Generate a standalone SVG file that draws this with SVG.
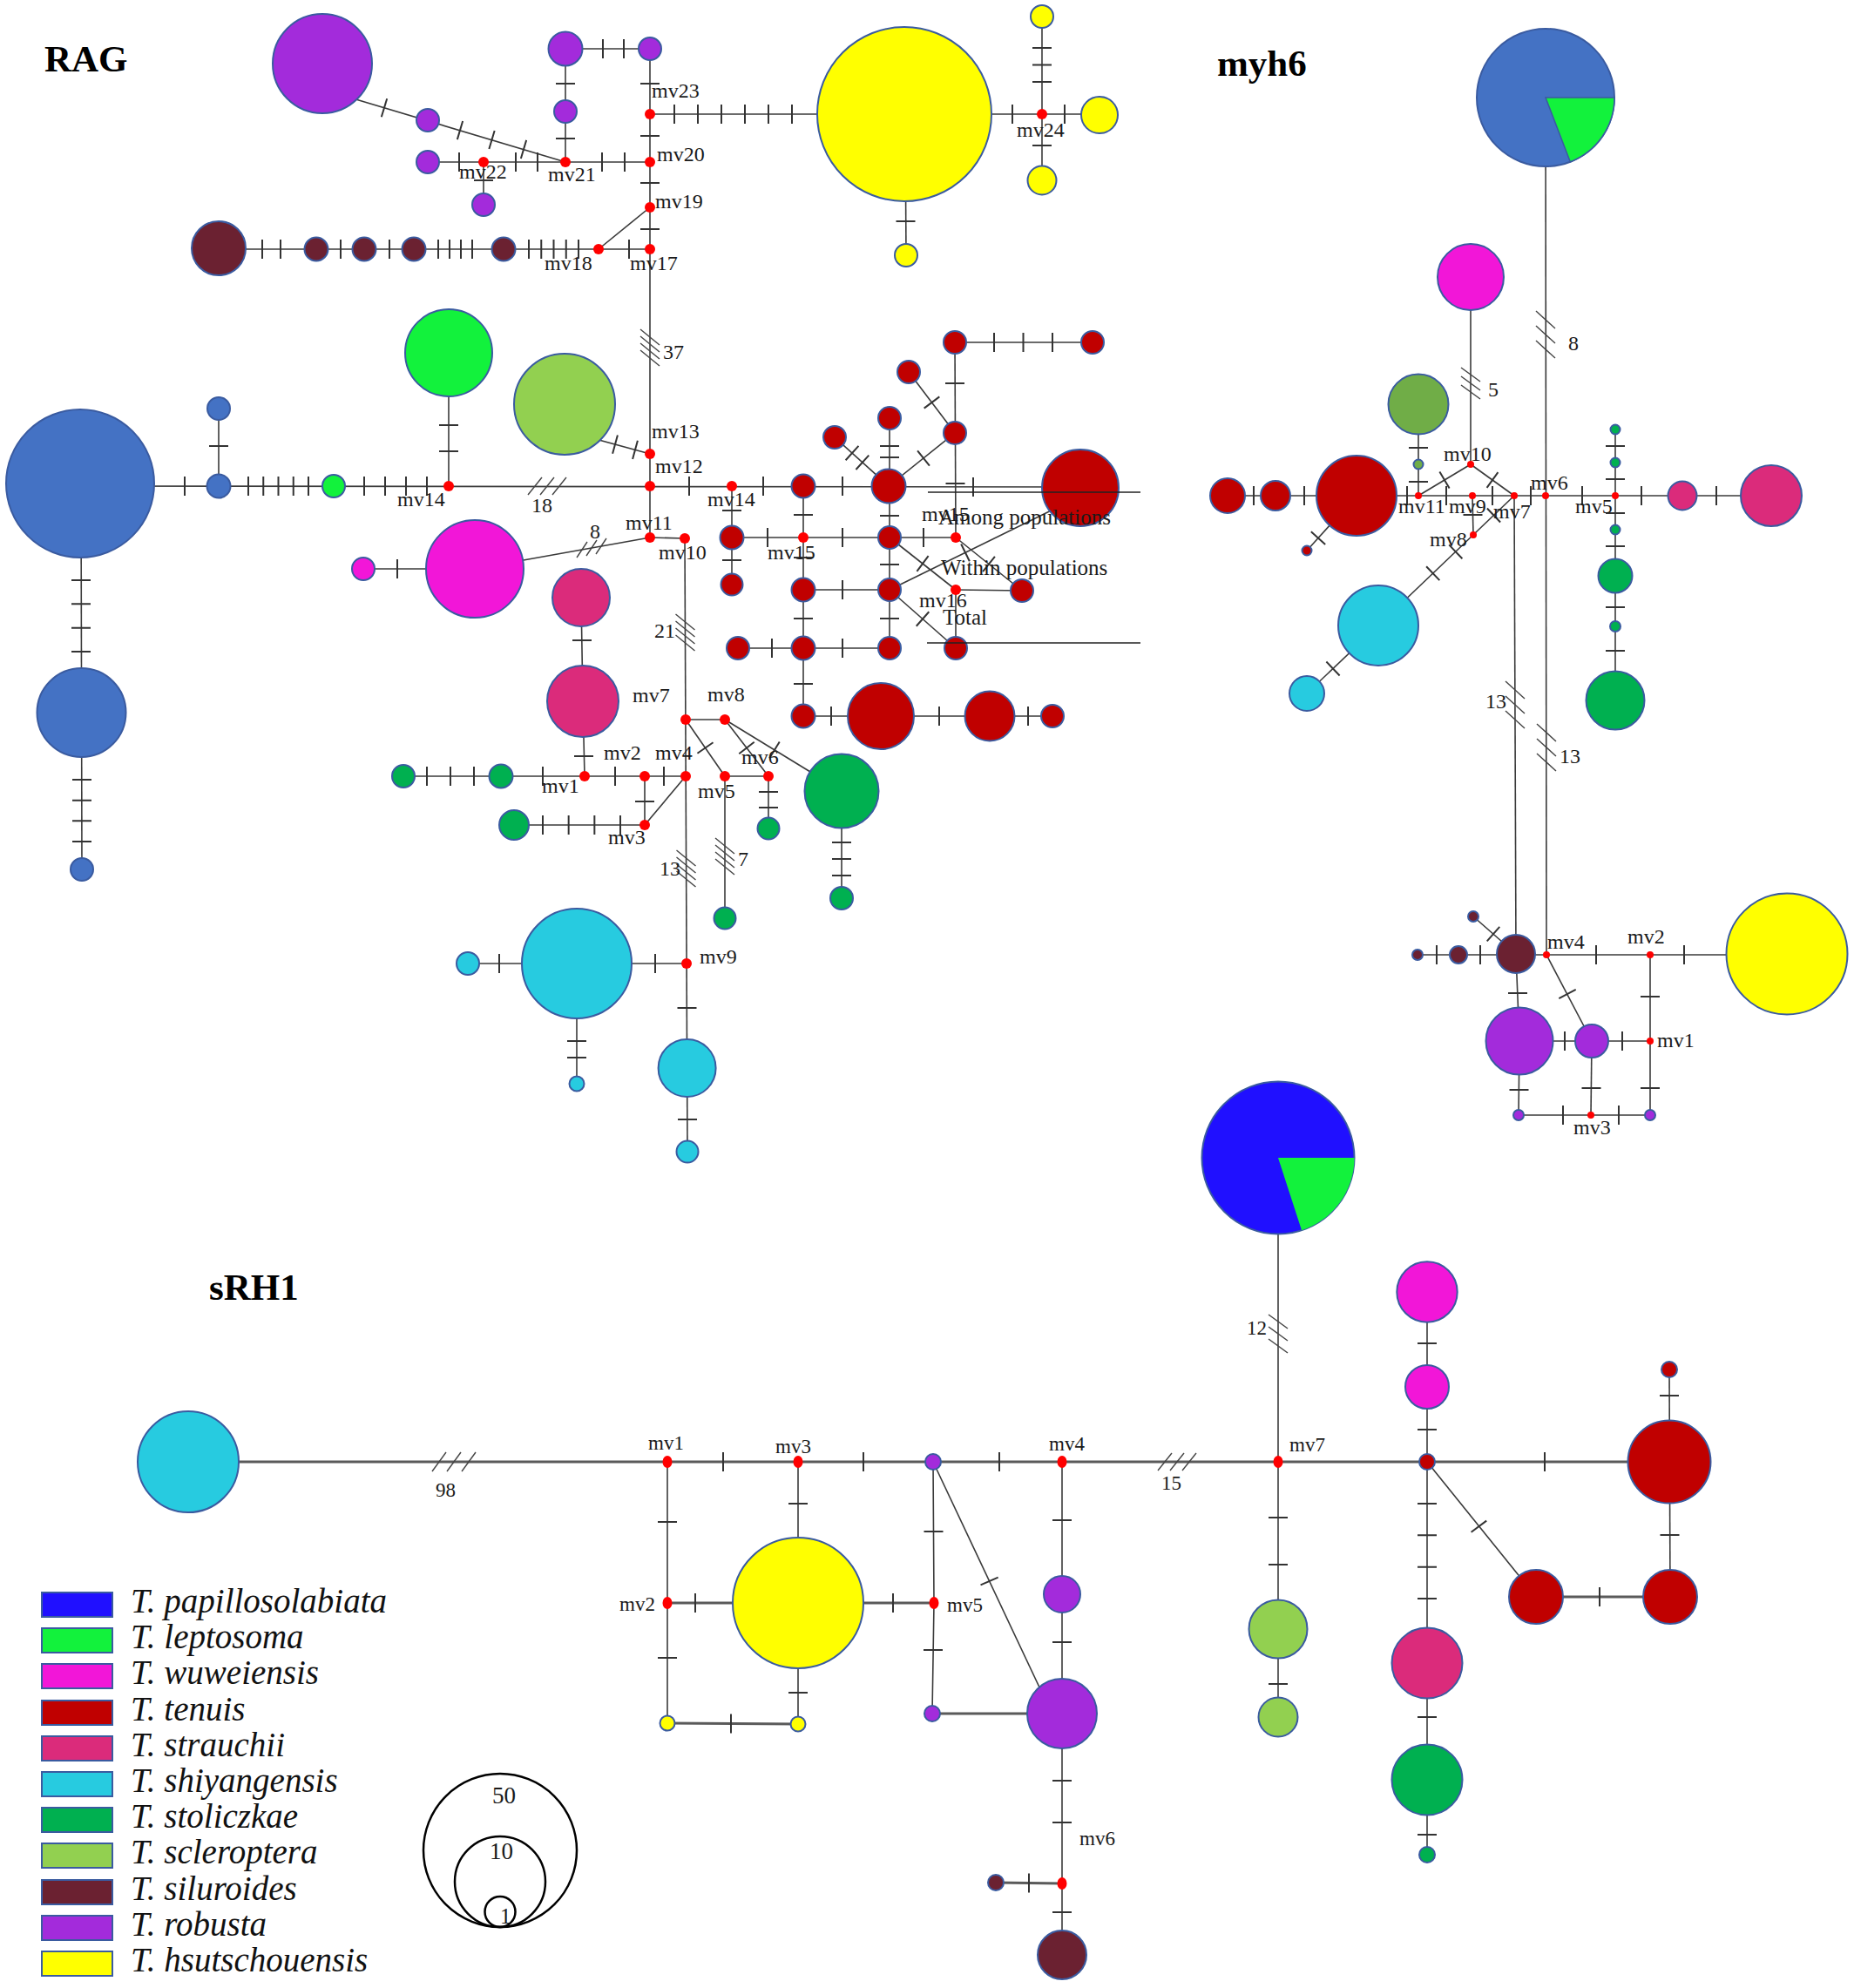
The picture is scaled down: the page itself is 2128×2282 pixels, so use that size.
<svg xmlns="http://www.w3.org/2000/svg" width="2128" height="2282" viewBox="0 0 2128 2282">
<defs>
<style>
.e{stroke:#3a3a3a;stroke-width:1.6;fill:none}
.em{stroke:#5a5a5a;stroke-width:2.8;fill:none}
.tk{stroke:#333;stroke-width:22;fill:none}
.h{stroke:#444;stroke-width:1.4;fill:none}
.rule{stroke:#222;stroke-width:1.5}
.n{stroke:#3A5BA0;stroke-width:2}
.mv{fill:#FF0000}
.rob{fill:#A32BDB}.sil{fill:#6B2131}.hsu{fill:#FFFF00}.bl{fill:#4472C4}.lep{fill:#12F23C}
.scl{fill:#92D050}.wuw{fill:#F216D8}.str{fill:#DB2B7B}.ten{fill:#C00000}.shi{fill:#27CBE0}
.sto{fill:#00B050}.pap{fill:#2010FF}.ol{fill:#70AD47}
.lb{font-family:"Liberation Serif","Times New Roman",serif;font-size:24px;fill:#1a1a1a}
.s23{font-size:23px}
.s25{font-size:25px}
.ttl{font-family:"Liberation Serif","Times New Roman",serif;font-size:43px;font-weight:bold;fill:#000}
.lg{font-family:"Liberation Serif","Times New Roman",serif;font-size:39px;font-style:italic;fill:#111}
.sw{stroke:#3A5BA0;stroke-width:2}
.sz{stroke:#000;stroke-width:2.5;fill:none}
</style>
</defs>
<rect width="2128" height="2282" fill="#ffffff"/>

<g id="titles">
<text class="ttl" x="51" y="82">RAG</text>
<text class="ttl" x="1397" y="87">myh6</text>
<text class="ttl" x="240" y="1492">sRH1</text>
</g>

<g id="connectors">
<g id="rag-edges" class="e">
<line x1="400" y1="111.5" x2="649" y2="186"/>
<line x1="491" y1="186" x2="746" y2="186"/>
<line x1="555" y1="186" x2="555" y2="235"/>
<line x1="649" y1="56" x2="746" y2="56"/>
<line x1="649" y1="56" x2="649" y2="186"/>
<line x1="746" y1="56" x2="746" y2="617"/>
<line x1="687" y1="286" x2="746" y2="238"/>
<line x1="251" y1="286" x2="746" y2="286"/>
<line x1="746" y1="131" x2="1262" y2="131"/>
<line x1="1039" y1="131" x2="1040" y2="293"/>
<line x1="1196" y1="19" x2="1196" y2="207"/>
<line x1="92" y1="558" x2="1240" y2="559"/>
<line x1="93" y1="555" x2="94" y2="998"/>
<line x1="251" y1="558" x2="251" y2="469"/>
<line x1="515" y1="558" x2="515" y2="405"/>
<line x1="680" y1="503" x2="746" y2="521"/>
<line x1="746" y1="617" x2="786" y2="618"/>
<line x1="786" y1="618" x2="789" y2="1322"/>
<line x1="417" y1="653" x2="545" y2="653"/>
<line x1="545" y1="653" x2="746" y2="617"/>
<polyline points="667,686 669,805 671,891"/>
<line x1="463" y1="891" x2="787" y2="891"/>
<line x1="740" y1="891" x2="740" y2="947"/>
<line x1="590" y1="947" x2="740" y2="947"/>
<line x1="740" y1="947" x2="787" y2="891"/>
<line x1="787" y1="826" x2="832" y2="826"/>
<line x1="787" y1="826" x2="832" y2="891"/>
<line x1="832" y1="826" x2="882" y2="891"/>
<line x1="832" y1="826" x2="966" y2="908"/>
<line x1="832" y1="891" x2="882" y2="891"/>
<line x1="882" y1="891" x2="882" y2="951"/>
<line x1="832" y1="891" x2="832" y2="1054"/>
<line x1="966" y1="908" x2="966" y2="1031"/>
<line x1="537" y1="1106" x2="788" y2="1106"/>
<line x1="662" y1="1106" x2="662" y2="1244"/>
<line x1="1096" y1="393" x2="1254" y2="393"/>
<line x1="1096" y1="393" x2="1097" y2="617"/>
<line x1="1043" y1="427" x2="1096" y2="497"/>
<line x1="1096" y1="497" x2="1020" y2="558"/>
<line x1="1021" y1="480" x2="1021" y2="744"/>
<line x1="958" y1="502" x2="1020" y2="558"/>
<line x1="840" y1="558" x2="840" y2="671"/>
<line x1="840" y1="617" x2="1097" y2="617"/>
<line x1="922" y1="558" x2="922" y2="822"/>
<line x1="922" y1="677" x2="1021" y2="677"/>
<line x1="1021" y1="617" x2="1097" y2="677"/>
<line x1="1097" y1="677" x2="1173" y2="678"/>
<line x1="1097" y1="617" x2="1173" y2="678"/>
<line x1="1097" y1="677" x2="1097" y2="744"/>
<line x1="1021" y1="677" x2="1097" y2="744"/>
<line x1="1021" y1="677" x2="1235" y2="572"/>
<line x1="847" y1="744" x2="1021" y2="744"/>
<line x1="922" y1="822" x2="1208" y2="822"/>
</g>
<g id="rag-ticks" class="tk">
<line x1="440.04" y1="123.41" x2="441.96" y2="123.99"/>
<line x1="527.04" y1="149.31" x2="601.96" y2="171.69" stroke-dasharray="2 36.1"/>
<line x1="526" y1="186" x2="528" y2="186"/>
<line x1="591" y1="186" x2="618" y2="186" stroke-dasharray="2 23"/>
<line x1="690" y1="186" x2="718" y2="186" stroke-dasharray="2 24"/>
<line x1="555" y1="206" x2="555" y2="208"/>
<line x1="691" y1="56" x2="717" y2="56" stroke-dasharray="2 22"/>
<line x1="649" y1="95" x2="649" y2="97"/>
<line x1="649" y1="158" x2="649" y2="160"/>
<line x1="746" y1="95" x2="746" y2="97"/>
<line x1="746" y1="155" x2="746" y2="157"/>
<line x1="746" y1="209" x2="746" y2="211"/>
<line x1="746" y1="262" x2="746" y2="264"/>
<line x1="721" y1="286" x2="723" y2="286"/>
<line x1="300" y1="286" x2="323" y2="286" stroke-dasharray="2 19"/>
<line x1="390" y1="286" x2="392" y2="286"/>
<line x1="446" y1="286" x2="448" y2="286"/>
<line x1="502" y1="286" x2="543" y2="286" stroke-dasharray="2 11"/>
<line x1="606" y1="286" x2="665" y2="286" stroke-dasharray="2 12.25"/>
<line x1="773" y1="131" x2="910" y2="131" stroke-dasharray="2 25"/>
<line x1="1039.5" y1="253" x2="1039.5" y2="255"/>
<line x1="1161" y1="131" x2="1163" y2="131"/>
<line x1="1221" y1="131" x2="1223" y2="131"/>
<line x1="1196" y1="54" x2="1196" y2="95" stroke-dasharray="2 17.5"/>
<line x1="1196" y1="166" x2="1196" y2="168"/>
<line x1="211" y1="558" x2="213" y2="558"/>
<line x1="251" y1="511" x2="251" y2="513"/>
<line x1="93" y1="665" x2="93" y2="749" stroke-dasharray="2 25.33"/>
<line x1="94" y1="894" x2="94" y2="967" stroke-dasharray="2 21.67"/>
<line x1="284" y1="558" x2="355" y2="558" stroke-dasharray="2 15.25"/>
<line x1="417" y1="558" x2="491" y2="558" stroke-dasharray="2 22"/>
<line x1="515" y1="487" x2="515" y2="519" stroke-dasharray="2 28"/>
<line x1="705.04" y1="509.84" x2="729.96" y2="516.66" stroke-dasharray="2 21.84"/>
<line x1="455" y1="653" x2="457" y2="653"/>
<line x1="668" y1="734" x2="668" y2="736"/>
<line x1="670" y1="867" x2="670" y2="869"/>
<line x1="622" y1="891" x2="624" y2="891"/>
<line x1="705" y1="891" x2="707" y2="891"/>
<line x1="761" y1="891" x2="763" y2="891"/>
<line x1="740" y1="919" x2="740" y2="921"/>
<line x1="489" y1="891" x2="545" y2="891" stroke-dasharray="2 25"/>
<line x1="622" y1="947" x2="713" y2="947" stroke-dasharray="2 27.67"/>
<line x1="808.93" y1="857.68" x2="810.07" y2="859.32"/>
<line x1="856.39" y1="857.71" x2="857.61" y2="859.29"/>
<line x1="888.15" y1="860.38" x2="889.85" y2="861.42"/>
<line x1="882" y1="908" x2="882" y2="928" stroke-dasharray="2 16"/>
<line x1="966" y1="966" x2="966" y2="1006" stroke-dasharray="2 17"/>
<line x1="751" y1="1106" x2="753" y2="1106"/>
<line x1="572" y1="1106" x2="574" y2="1106"/>
<line x1="662" y1="1194" x2="662" y2="1215" stroke-dasharray="2 17"/>
<line x1="788.5" y1="1156" x2="788.5" y2="1158"/>
<line x1="789" y1="1284" x2="789" y2="1286"/>
<line x1="790" y1="558" x2="792" y2="558"/>
<line x1="875" y1="558" x2="877" y2="558"/>
<line x1="966" y1="558" x2="968" y2="558"/>
<line x1="1116" y1="559" x2="1118" y2="559"/>
<line x1="1140" y1="393" x2="1209" y2="393" stroke-dasharray="2 31.5"/>
<line x1="1096" y1="439" x2="1096" y2="441"/>
<line x1="1096.5" y1="554" x2="1096.5" y2="556"/>
<line x1="1068.9" y1="461.2" x2="1070.1" y2="462.8"/>
<line x1="1060.78" y1="525.37" x2="1059.22" y2="526.63"/>
<line x1="1021" y1="511" x2="1021" y2="526" stroke-dasharray="2 11"/>
<line x1="977.3" y1="519.4" x2="990.6" y2="531.5" stroke-dasharray="2 13.98"/>
<line x1="1021" y1="591" x2="1021" y2="593"/>
<line x1="840" y1="585" x2="840" y2="587"/>
<line x1="840" y1="642" x2="840" y2="644"/>
<line x1="880" y1="617" x2="882" y2="617"/>
<line x1="966" y1="617" x2="968" y2="617"/>
<line x1="1059" y1="617" x2="1061" y2="617"/>
<line x1="922" y1="590" x2="922" y2="592"/>
<line x1="922" y1="639" x2="922" y2="641"/>
<line x1="1021" y1="647" x2="1021" y2="649"/>
<line x1="966" y1="677" x2="968" y2="677"/>
<line x1="922" y1="709" x2="922" y2="711"/>
<line x1="1021" y1="709" x2="1021" y2="711"/>
<line x1="885" y1="744" x2="887" y2="744"/>
<line x1="966" y1="744" x2="968" y2="744"/>
<line x1="922" y1="784" x2="922" y2="786"/>
<line x1="953" y1="822" x2="955" y2="822"/>
<line x1="1077" y1="822" x2="1079" y2="822"/>
<line x1="1179" y1="822" x2="1181" y2="822"/>
<line x1="1058.2" y1="646.4" x2="1059.8" y2="647.6"/>
<line x1="1058.25" y1="709.84" x2="1059.75" y2="711.16"/>
<line x1="1134.22" y1="646.87" x2="1135.78" y2="648.13"/>
<line x1="1107.1" y1="634.84" x2="1108.9" y2="633.96"/>
</g>
<g id="rag-hatches" class="h">
<line x1="735" y1="378" x2="757" y2="396"/><line x1="735" y1="386" x2="757" y2="404"/><line x1="735" y1="394" x2="757" y2="412"/><line x1="735" y1="402" x2="757" y2="420"/>
<line x1="775.5" y1="705" x2="797.5" y2="723"/><line x1="775.5" y1="713" x2="797.5" y2="731"/><line x1="775.5" y1="721" x2="797.5" y2="739"/><line x1="775.5" y1="729" x2="797.5" y2="747"/>
<line x1="776.5" y1="976" x2="798.5" y2="994"/><line x1="776.5" y1="984" x2="798.5" y2="1002"/><line x1="776.5" y1="992" x2="798.5" y2="1010"/><line x1="776.5" y1="1000" x2="798.5" y2="1018"/>
<line x1="821" y1="962" x2="843" y2="980"/><line x1="821" y1="970" x2="843" y2="988"/><line x1="821" y1="978" x2="843" y2="996"/><line x1="821" y1="986" x2="843" y2="1004"/>
<line x1="606" y1="568" x2="622" y2="548"/><line x1="620" y1="568" x2="636" y2="548"/><line x1="634" y1="568" x2="650" y2="548"/>
<line x1="662" y1="640" x2="674" y2="622"/><line x1="673" y1="638" x2="685" y2="620"/><line x1="684" y1="636" x2="696" y2="618"/>
</g>

<g id="myh6-edges" class="e">
<line x1="1774" y1="112" x2="1775" y2="1096"/>
<line x1="1688" y1="318" x2="1688" y2="533"/>
<line x1="1628" y1="464" x2="1628" y2="569"/>
<line x1="1628" y1="569" x2="1688" y2="533"/>
<line x1="1688" y1="533" x2="1738" y2="569"/>
<line x1="1409" y1="569" x2="2033" y2="569"/>
<line x1="1557" y1="569" x2="1500" y2="632"/>
<line x1="1690" y1="569" x2="1691" y2="614"/>
<line x1="1738" y1="569" x2="1582" y2="718"/>
<line x1="1582" y1="718" x2="1500" y2="796"/>
<line x1="1854" y1="493" x2="1854" y2="804"/>
<line x1="1738" y1="569" x2="1740" y2="1095"/>
<line x1="1627" y1="1096" x2="2051" y2="1096"/>
<line x1="1740" y1="1095" x2="1691" y2="1052"/>
<line x1="1894" y1="1096" x2="1894" y2="1280"/>
<polyline points="1740,1096 1744,1195 1743,1280"/>
<line x1="1775" y1="1096" x2="1827" y2="1195"/>
<line x1="1744" y1="1195" x2="1894" y2="1195"/>
<line x1="1827" y1="1195" x2="1826" y2="1280"/>
<line x1="1743" y1="1280" x2="1894" y2="1280"/>
</g>
<g id="myh6-ticks" class="tk">
<line x1="1628" y1="513" x2="1628" y2="515"/>
<line x1="1628" y1="552" x2="1628" y2="554"/>
<line x1="1657.14" y1="551.51" x2="1658.86" y2="550.49"/>
<line x1="1712.19" y1="550.42" x2="1713.81" y2="551.58"/>
<line x1="1614" y1="569" x2="1616" y2="569"/>
<line x1="1659" y1="569" x2="1661" y2="569"/>
<line x1="1712" y1="569" x2="1714" y2="569"/>
<line x1="1756" y1="569" x2="1758" y2="569"/>
<line x1="1815" y1="569" x2="1817" y2="569"/>
<line x1="1883" y1="569" x2="1885" y2="569"/>
<line x1="1969" y1="569" x2="1971" y2="569"/>
<line x1="1496" y1="569" x2="1498" y2="569"/>
<line x1="1438" y1="569" x2="1440" y2="569"/>
<line x1="1513.67" y1="616.86" x2="1512.33" y2="618.34"/>
<line x1="1690.5" y1="590" x2="1690.5" y2="592"/>
<line x1="1715.22" y1="590.81" x2="1713.78" y2="592.19"/>
<line x1="1671.5" y1="632.6" x2="1644" y2="658.9" stroke-dasharray="2 34.05"/>
<line x1="1530.72" y1="766.81" x2="1529.28" y2="768.19"/>
<line x1="1854" y1="549" x2="1854" y2="551"/>
<line x1="1854" y1="511" x2="1854" y2="513"/>
<line x1="1854" y1="588" x2="1854" y2="590"/>
<line x1="1854" y1="626" x2="1854" y2="628"/>
<line x1="1854" y1="696" x2="1854" y2="698"/>
<line x1="1854" y1="746" x2="1854" y2="748"/>
<line x1="1698" y1="1096" x2="1700" y2="1096"/>
<line x1="1648" y1="1096" x2="1650" y2="1096"/>
<line x1="1714.75" y1="1072.86" x2="1713.25" y2="1071.54"/>
<line x1="1831" y1="1096" x2="1833" y2="1096"/>
<line x1="1932" y1="1096" x2="1934" y2="1096"/>
<line x1="1894" y1="1143" x2="1894" y2="1145"/>
<line x1="1894" y1="1248" x2="1894" y2="1250"/>
<line x1="1742" y1="1139" x2="1742" y2="1141"/>
<line x1="1743.5" y1="1250" x2="1743.5" y2="1252"/>
<line x1="1798.53" y1="1140.12" x2="1799.47" y2="1141.88"/>
<line x1="1795" y1="1195" x2="1797" y2="1195"/>
<line x1="1861" y1="1195" x2="1863" y2="1195"/>
<line x1="1826.5" y1="1248" x2="1826.5" y2="1250"/>
<line x1="1793" y1="1280" x2="1795" y2="1280"/>
<line x1="1857" y1="1280" x2="1859" y2="1280"/>
</g>
<g id="myh6-hatches" class="h">
<line x1="1763" y1="357" x2="1785" y2="377"/><line x1="1763" y1="374" x2="1785" y2="394"/><line x1="1763" y1="391" x2="1785" y2="411"/>
<line x1="1677" y1="422" x2="1699" y2="438"/><line x1="1677" y1="432" x2="1699" y2="448"/><line x1="1677" y1="442" x2="1699" y2="458"/>
<line x1="1728" y1="782" x2="1750" y2="802"/><line x1="1728" y1="799" x2="1750" y2="819"/><line x1="1728" y1="816" x2="1750" y2="836"/>
<line x1="1764" y1="831" x2="1786" y2="851"/><line x1="1764" y1="848" x2="1786" y2="868"/><line x1="1764" y1="865" x2="1786" y2="885"/>
</g>

<g id="srh1-edges">
<line class="em" x1="216" y1="1678" x2="1916" y2="1678"/>
<line class="e" x1="766" y1="1678" x2="766" y2="1978"/>
<line class="e" x1="916" y1="1678" x2="916" y2="1979"/>
<line class="em" x1="766" y1="1840" x2="1072" y2="1840"/>
<line class="em" x1="766" y1="1978" x2="916" y2="1979"/>
<polyline class="e" points="1071,1678 1072,1840 1070,1967"/>
<line class="em" x1="1070" y1="1967" x2="1219" y2="1967"/>
<line class="e" x1="1071" y1="1678" x2="1195" y2="1941"/>
<line class="e" x1="1219" y1="1678" x2="1219" y2="2244"/>
<line class="em" x1="1143" y1="2161" x2="1219" y2="2162"/>
<line class="e" x1="1467" y1="1329" x2="1467" y2="1971"/>
<line class="e" x1="1638" y1="1483" x2="1638" y2="2129"/>
<line class="e" x1="1638" y1="1678" x2="1763" y2="1833"/>
<line class="e" x1="1916" y1="1572" x2="1917" y2="1833"/>
<line class="em" x1="1763" y1="1833" x2="1917" y2="1833"/>
</g>
<g id="srh1-ticks" class="tk">
<line x1="829" y1="1678" x2="831" y2="1678"/>
<line x1="990" y1="1678" x2="992" y2="1678"/>
<line x1="1146" y1="1678" x2="1148" y2="1678"/>
<line x1="1772" y1="1678" x2="1774" y2="1678"/>
<line x1="766" y1="1746" x2="766" y2="1748"/>
<line x1="766" y1="1902" x2="766" y2="1904"/>
<line x1="916" y1="1725" x2="916" y2="1727"/>
<line x1="797" y1="1840" x2="799" y2="1840"/>
<line x1="1024" y1="1840" x2="1026" y2="1840"/>
<line x1="916" y1="1942" x2="916" y2="1944"/>
<line x1="838" y1="1978.5" x2="840" y2="1978.5"/>
<line x1="1071.5" y1="1757" x2="1071.5" y2="1759"/>
<line x1="1071" y1="1893" x2="1071" y2="1895"/>
<line x1="1135.2" y1="1814.1" x2="1136" y2="1815.9"/>
<line x1="1219" y1="1744" x2="1219" y2="1746"/>
<line x1="1219" y1="1884" x2="1219" y2="1886"/>
<line x1="1219" y1="2043" x2="1219" y2="2093" stroke-dasharray="2 46"/>
<line x1="1180" y1="2161.5" x2="1182" y2="2161.5"/>
<line x1="1219" y1="2194" x2="1219" y2="2196"/>
<line x1="1467" y1="1741" x2="1467" y2="1797" stroke-dasharray="2 52"/>
<line x1="1467" y1="1932" x2="1467" y2="1934"/>
<line x1="1638" y1="1640" x2="1638" y2="1642"/>
<line x1="1638" y1="1541" x2="1638" y2="1543"/>
<line x1="1916" y1="1601" x2="1916" y2="1603"/>
<line x1="1916.5" y1="1761" x2="1916.5" y2="1763"/>
<line x1="1835" y1="1833" x2="1837" y2="1833"/>
<line x1="1696.8" y1="1751.4" x2="1698" y2="1753"/>
<line x1="1638" y1="1725" x2="1638" y2="1836" stroke-dasharray="2 34.33"/>
<line x1="1638" y1="1970" x2="1638" y2="1972"/>
<line x1="1638" y1="2105" x2="1638" y2="2107"/>
</g>
<g id="srh1-hatches" class="h">
<line x1="496" y1="1689" x2="512" y2="1667"/><line x1="513" y1="1689" x2="529" y2="1667"/><line x1="530" y1="1689" x2="546" y2="1667"/>
<line x1="1329" y1="1688" x2="1345" y2="1668"/><line x1="1343" y1="1688" x2="1359" y2="1668"/><line x1="1357" y1="1688" x2="1373" y2="1668"/>
<line x1="1456" y1="1509" x2="1478" y2="1525"/><line x1="1456" y1="1523" x2="1478" y2="1539"/><line x1="1456" y1="1537" x2="1478" y2="1553"/>
</g>
</g>

<g id="rag-nodes">
<g id="rag-rob1"><circle class="n rob" cx="370" cy="73" r="57"/></g>
<g id="rag-rob2"><circle class="n rob" cx="491" cy="138" r="13"/></g>
<g id="rag-rob3"><circle class="n rob" cx="491" cy="186" r="13"/></g>
<g id="rag-rob4"><circle class="n rob" cx="555" cy="235" r="13"/></g>
<g id="rag-rob5"><circle class="n rob" cx="649" cy="56" r="19.5"/></g>
<g id="rag-rob6"><circle class="n rob" cx="746" cy="56" r="13"/></g>
<g id="rag-rob7"><circle class="n rob" cx="649" cy="128" r="13"/></g>
<g id="rag-sil1"><circle class="n sil" cx="251" cy="285" r="31"/></g>
<g id="rag-sil2"><circle class="n sil" cx="363" cy="286" r="13.5"/></g>
<g id="rag-sil3"><circle class="n sil" cx="418" cy="286" r="13.5"/></g>
<g id="rag-sil4"><circle class="n sil" cx="475" cy="286" r="13.5"/></g>
<g id="rag-sil5"><circle class="n sil" cx="578" cy="286" r="13.5"/></g>
<g id="rag-hsu1"><circle class="n hsu" cx="1038" cy="131" r="100"/></g>
<g id="rag-hsu2"><circle class="n hsu" cx="1040" cy="293" r="13"/></g>
<g id="rag-hsu3"><circle class="n hsu" cx="1262" cy="132" r="21"/></g>
<g id="rag-hsu4"><circle class="n hsu" cx="1196" cy="19" r="13"/></g>
<g id="rag-hsu5"><circle class="n hsu" cx="1196" cy="207" r="16.5"/></g>
<g id="rag-pap1"><circle class="n bl" cx="92" cy="555" r="85"/></g>
<g id="rag-pap2"><circle class="n bl" cx="251" cy="469" r="13"/></g>
<g id="rag-pap3"><circle class="n bl" cx="251" cy="558" r="13.5"/></g>
<g id="rag-pap4"><circle class="n bl" cx="93.5" cy="818" r="51"/></g>
<g id="rag-pap5"><circle class="n bl" cx="94" cy="998" r="13"/></g>
<g id="rag-lep1"><circle class="n lep" cx="383" cy="558" r="13"/></g>
<g id="rag-lep2"><circle class="n lep" cx="515" cy="405" r="50"/></g>
<g id="rag-scl1"><circle class="n scl" cx="648" cy="464" r="58"/></g>
<g id="rag-wuw1"><circle class="n wuw" cx="545" cy="653" r="56"/></g>
<g id="rag-wuw2"><circle class="n wuw" cx="417" cy="653" r="13"/></g>
<g id="rag-str1"><circle class="n str" cx="667" cy="686" r="33"/></g>
<g id="rag-str2"><circle class="n str" cx="669" cy="805" r="41"/></g>
<g id="rag-sto1"><circle class="n sto" cx="463" cy="891" r="13"/></g>
<g id="rag-sto2"><circle class="n sto" cx="575" cy="891" r="13.5"/></g>
<g id="rag-sto3"><circle class="n sto" cx="590" cy="947" r="17"/></g>
<g id="rag-sto4"><circle class="n sto" cx="966" cy="908" r="42.5"/></g>
<g id="rag-sto5"><circle class="n sto" cx="882" cy="951" r="12.5"/></g>
<g id="rag-sto6"><circle class="n sto" cx="832" cy="1054" r="12.5"/></g>
<g id="rag-sto7"><circle class="n sto" cx="966" cy="1031" r="13"/></g>
<g id="rag-shi1"><circle class="n shi" cx="662" cy="1106" r="63"/></g>
<g id="rag-shi2"><circle class="n shi" cx="537" cy="1106" r="13"/></g>
<g id="rag-shi3"><circle class="n shi" cx="662" cy="1244" r="8.5"/></g>
<g id="rag-shi4"><circle class="n shi" cx="788.6" cy="1226" r="33"/></g>
<g id="rag-shi5"><circle class="n shi" cx="789" cy="1322" r="12.5"/></g>
<g id="rag-ten1"><circle class="n ten" cx="922" cy="558" r="13.5"/></g>
<g id="rag-ten2"><circle class="n ten" cx="1020" cy="558" r="19.5"/></g>
<g id="rag-ten3"><circle class="n ten" cx="1240" cy="560" r="44"/></g>
<g id="rag-ten4"><circle class="n ten" cx="1096" cy="393" r="13"/></g>
<g id="rag-ten5"><circle class="n ten" cx="1254" cy="393" r="13"/></g>
<g id="rag-ten6"><circle class="n ten" cx="1096" cy="497" r="13"/></g>
<g id="rag-ten7"><circle class="n ten" cx="1043" cy="427" r="13"/></g>
<g id="rag-ten8"><circle class="n ten" cx="1021" cy="480" r="13"/></g>
<g id="rag-ten9"><circle class="n ten" cx="958" cy="502" r="13"/></g>
<g id="rag-ten10"><circle class="n ten" cx="1021" cy="617" r="13"/></g>
<g id="rag-ten11"><circle class="n ten" cx="840" cy="617" r="13.5"/></g>
<g id="rag-ten12"><circle class="n ten" cx="840" cy="671" r="12.5"/></g>
<g id="rag-ten13"><circle class="n ten" cx="1173" cy="678" r="13"/></g>
<g id="rag-ten14"><circle class="n ten" cx="1097" cy="744" r="13"/></g>
<g id="rag-ten15"><circle class="n ten" cx="1021" cy="677" r="13"/></g>
<g id="rag-ten16"><circle class="n ten" cx="1021" cy="744" r="13"/></g>
<g id="rag-ten17"><circle class="n ten" cx="922" cy="677" r="13.5"/></g>
<g id="rag-ten18"><circle class="n ten" cx="922" cy="744" r="13.5"/></g>
<g id="rag-ten19"><circle class="n ten" cx="847" cy="744" r="13"/></g>
<g id="rag-ten20"><circle class="n ten" cx="922" cy="822" r="13.5"/></g>
<g id="rag-ten21"><circle class="n ten" cx="1011" cy="822" r="38"/></g>
<g id="rag-ten22"><circle class="n ten" cx="1136" cy="822" r="28.5"/></g>
<g id="rag-ten23"><circle class="n ten" cx="1208" cy="822" r="13"/></g>
<g id="rag-mvs" class="mv">
<circle id="rag-mv1" cx="671" cy="891" r="6"/>
<circle id="rag-mv2" cx="740" cy="891" r="6"/>
<circle id="rag-mv3" cx="740" cy="947" r="6"/>
<circle id="rag-mv4" cx="787" cy="891" r="6"/>
<circle id="rag-mv5" cx="832" cy="891" r="6"/>
<circle id="rag-mv6" cx="882" cy="891" r="6"/>
<circle id="rag-mv7" cx="787" cy="826" r="6"/>
<circle id="rag-mv8" cx="832" cy="826" r="6"/>
<circle id="rag-mv9" cx="788" cy="1106" r="6"/>
<circle id="rag-mv10" cx="786" cy="618" r="6"/>
<circle id="rag-mv11" cx="746" cy="617" r="6"/>
<circle id="rag-mv12" cx="746" cy="558" r="6"/>
<circle id="rag-mv13" cx="746" cy="521" r="6"/>
<circle id="rag-mv14a" cx="515" cy="558" r="6"/>
<circle id="rag-mv14b" cx="840" cy="558" r="6"/>
<circle id="rag-mv15a" cx="922" cy="617" r="6"/>
<circle id="rag-mv15b" cx="1097" cy="617" r="6"/>
<circle id="rag-mv16" cx="1097" cy="677" r="6"/>
<circle id="rag-mv17" cx="746" cy="286" r="6"/>
<circle id="rag-mv18" cx="687" cy="286" r="6"/>
<circle id="rag-mv19" cx="746" cy="238" r="6"/>
<circle id="rag-mv20" cx="746" cy="186" r="6"/>
<circle id="rag-mv21" cx="649" cy="186" r="6"/>
<circle id="rag-mv22" cx="555" cy="186" r="6"/>
<circle id="rag-mv23" cx="746" cy="131" r="6"/>
<circle id="rag-mv24" cx="1196" cy="131" r="6"/>
</g>
</g>

<g id="myh6-nodes">
<g id="myh6-pie"><circle class="n bl" cx="1774" cy="112" r="79"/><path class="lep" stroke="#3A5BA0" stroke-width="1.5" d="M1774,112 L1853,112 A79,79 0 0,1 1802.31,185.75 Z"/></g>
<g id="myh6-wuw"><circle class="n wuw" cx="1688" cy="318" r="38"/></g>
<g id="myh6-scl"><circle class="n ol" cx="1628" cy="464" r="34.5"/></g>
<g id="myh6-scl2"><circle class="n ol" cx="1628" cy="533" r="5.5"/></g>
<g id="myh6-ten1"><circle class="n ten" cx="1557" cy="569" r="46"/></g>
<g id="myh6-ten2"><circle class="n ten" cx="1464" cy="569" r="17"/></g>
<g id="myh6-ten3"><circle class="n ten" cx="1409" cy="569" r="20"/></g>
<g id="myh6-ten4"><circle class="n ten" cx="1500" cy="632" r="5.5"/></g>
<g id="myh6-str1"><circle class="n str" cx="1931" cy="569" r="16.5"/></g>
<g id="myh6-str2"><circle class="n str" cx="2033" cy="569" r="35"/></g>
<g id="myh6-sto1"><circle class="n sto" cx="1854" cy="531" r="5.5"/></g>
<g id="myh6-sto2"><circle class="n sto" cx="1854" cy="493" r="5.5"/></g>
<g id="myh6-sto3"><circle class="n sto" cx="1854" cy="608" r="5.5"/></g>
<g id="myh6-sto4"><circle class="n sto" cx="1854" cy="661" r="19.5"/></g>
<g id="myh6-sto5"><circle class="n sto" cx="1854" cy="719" r="6"/></g>
<g id="myh6-sto6"><circle class="n sto" cx="1854" cy="804" r="33.5"/></g>
<g id="myh6-shi1"><circle class="n shi" cx="1582" cy="718" r="46"/></g>
<g id="myh6-shi2"><circle class="n shi" cx="1500" cy="796" r="20"/></g>
<g id="myh6-sil1"><circle class="n sil" cx="1740" cy="1095" r="22"/></g>
<g id="myh6-sil2"><circle class="n sil" cx="1674" cy="1096" r="10"/></g>
<g id="myh6-sil3"><circle class="n sil" cx="1627" cy="1096" r="6"/></g>
<g id="myh6-sil4"><circle class="n sil" cx="1691" cy="1052" r="6"/></g>
<g id="myh6-hsu"><circle class="n hsu" cx="2051" cy="1095" r="69.5"/></g>
<g id="myh6-rob1"><circle class="n rob" cx="1744" cy="1195" r="38.5"/></g>
<g id="myh6-rob2"><circle class="n rob" cx="1827" cy="1195" r="19"/></g>
<g id="myh6-rob3"><circle class="n rob" cx="1743" cy="1280" r="6"/></g>
<g id="myh6-rob4"><circle class="n rob" cx="1894" cy="1280" r="6"/></g>
<g id="myh6-mvs" class="mv">
<circle id="myh6-mv1" cx="1894" cy="1195" r="4"/>
<circle id="myh6-mv2" cx="1894" cy="1096" r="4"/>
<circle id="myh6-mv3" cx="1826" cy="1280" r="4"/>
<circle id="myh6-mv4" cx="1775" cy="1096" r="4"/>
<circle id="myh6-mv5" cx="1854" cy="569" r="4"/>
<circle id="myh6-mv6" cx="1774" cy="569" r="4"/>
<circle id="myh6-mv7" cx="1738" cy="569" r="4"/>
<circle id="myh6-mv8" cx="1691" cy="614" r="4"/>
<circle id="myh6-mv9" cx="1690" cy="569" r="4"/>
<circle id="myh6-mv10" cx="1688" cy="533" r="4"/>
<circle id="myh6-mv11" cx="1628" cy="569" r="4"/>
</g>
</g>

<g id="srh1-nodes">
<g id="srh1-shi"><circle class="n shi" cx="216" cy="1678" r="58"/></g>
<g id="srh1-rob1"><circle class="n rob" cx="1071" cy="1678" r="9"/></g>
<g id="srh1-rob2"><circle class="n rob" cx="1219" cy="1830" r="21"/></g>
<g id="srh1-rob3"><circle class="n rob" cx="1219" cy="1967" r="40"/></g>
<g id="srh1-rob4"><circle class="n rob" cx="1070" cy="1967" r="9"/></g>
<g id="srh1-hsu1"><circle class="n hsu" cx="916" cy="1840" r="75"/></g>
<g id="srh1-hsu2"><circle class="n hsu" cx="766" cy="1978" r="8.5"/></g>
<g id="srh1-hsu3"><circle class="n hsu" cx="916" cy="1979" r="8.5"/></g>
<g id="srh1-sil1"><circle class="n sil" cx="1143" cy="2161" r="9"/></g>
<g id="srh1-sil2"><circle class="n sil" cx="1219" cy="2244" r="28"/></g>
<g id="srh1-pie"><circle class="n pap" cx="1467" cy="1329" r="87.5"/><path class="lep" d="M1467,1329 L1554.5,1329 A87.5,87.5 0 0,1 1494.04,1412.22 Z"/></g>
<g id="srh1-scl1"><circle class="n scl" cx="1467" cy="1870" r="33.5"/></g>
<g id="srh1-scl2"><circle class="n scl" cx="1467" cy="1971" r="22.5"/></g>
<g id="srh1-ten1"><circle class="n ten" cx="1638" cy="1678" r="9"/></g>
<g id="srh1-ten2"><circle class="n ten" cx="1916" cy="1678" r="47.5"/></g>
<g id="srh1-ten3"><circle class="n ten" cx="1916" cy="1572" r="9"/></g>
<g id="srh1-ten4"><circle class="n ten" cx="1917" cy="1833" r="31"/></g>
<g id="srh1-ten5"><circle class="n ten" cx="1763" cy="1833" r="31"/></g>
<g id="srh1-wuw1"><circle class="n wuw" cx="1638" cy="1483" r="34.7"/></g>
<g id="srh1-wuw2"><circle class="n wuw" cx="1638" cy="1592" r="25"/></g>
<g id="srh1-str"><circle class="n str" cx="1638" cy="1909" r="40.5"/></g>
<g id="srh1-sto1"><circle class="n sto" cx="1638" cy="2043" r="40.5"/></g>
<g id="srh1-sto2"><circle class="n sto" cx="1638" cy="2129" r="9"/></g>
<g id="srh1-mvs" class="mv">
<ellipse id="srh1-mv1" cx="766" cy="1678" rx="5.5" ry="7"/>
<ellipse id="srh1-mv2" cx="766" cy="1840" rx="5.5" ry="7"/>
<ellipse id="srh1-mv3" cx="916" cy="1678" rx="5.5" ry="7"/>
<ellipse id="srh1-mv4" cx="1219" cy="1678" rx="5.5" ry="7"/>
<ellipse id="srh1-mv5" cx="1072" cy="1840" rx="5.5" ry="7"/>
<ellipse id="srh1-mv6" cx="1219" cy="2162" rx="5.5" ry="7"/>
<ellipse id="srh1-mv7" cx="1467" cy="1678" rx="5.5" ry="7"/>
</g>
</g>

<g id="amova-table">
<line class="rule" x1="1065" y1="565" x2="1309" y2="565"/>
<line class="rule" x1="1064" y1="738" x2="1309" y2="738"/>
</g>

<g id="labels" class="lb">
<text x="748" y="112">mv23</text>
<text x="754" y="185">mv20</text>
<text x="752" y="239">mv19</text>
<text x="723" y="310">mv17</text>
<text x="625" y="310">mv18</text>
<text x="629" y="208">mv21</text>
<text x="527" y="205">mv22</text>
<text x="1167" y="157">mv24</text>
<text x="748" y="503">mv13</text>
<text x="752" y="543">mv12</text>
<text x="456" y="581">mv14</text>
<text x="610" y="588">18</text>
<text x="812" y="581">mv14</text>
<text x="718" y="608">mv11</text>
<text x="756" y="642">mv10</text>
<text x="677" y="618">8</text>
<text x="761" y="412">37</text>
<text x="751" y="732">21</text>
<text x="881" y="642">mv15</text>
<text x="1058" y="598">mv15</text>
<text x="1055" y="697">mv16</text>
<text x="726" y="806">mv7</text>
<text x="812" y="805">mv8</text>
<text x="693" y="872">mv2</text>
<text x="752" y="872">mv4</text>
<text x="622" y="910">mv1</text>
<text x="801" y="916">mv5</text>
<text x="851" y="877">mv6</text>
<text x="698" y="969">mv3</text>
<text x="757" y="1005">13</text>
<text x="847" y="994">7</text>
<text x="803" y="1106">mv9</text>
<text class="s25" x="1077" y="602">Among populations</text>
<text class="s25" x="1080" y="660">Within populations</text>
<text class="s25" x="1082" y="717">Total</text>
<text x="1657" y="529">mv10</text>
<text x="1605" y="589">mv11</text>
<text x="1663" y="589">mv9</text>
<text x="1714" y="595">mv7</text>
<text x="1757" y="562">mv6</text>
<text x="1808" y="589">mv5</text>
<text x="1641" y="627">mv8</text>
<text x="1800" y="402">8</text>
<text x="1708" y="455">5</text>
<text x="1705" y="813">13</text>
<text x="1790" y="876">13</text>
<text x="1776" y="1089">mv4</text>
<text x="1868" y="1083">mv2</text>
<text x="1902" y="1202">mv1</text>
<text x="1806" y="1302">mv3</text>
<text class="s23" x="744" y="1664">mv1</text>
<text class="s23" x="890" y="1668">mv3</text>
<text class="s23" x="500" y="1718">98</text>
<text class="s23" x="711" y="1849">mv2</text>
<text class="s23" x="1087" y="1850">mv5</text>
<text class="s23" x="1204" y="1665">mv4</text>
<text class="s23" x="1333" y="1710">15</text>
<text class="s23" x="1480" y="1666">mv7</text>
<text class="s23" x="1431" y="1532">12</text>
<text class="s23" x="1239" y="2118">mv6</text>
</g>

<g id="legend">
<rect class="sw pap" x="48" y="1828" width="81" height="28"/>
<rect class="sw lep" x="48" y="1869" width="81" height="28"/>
<rect class="sw wuw" x="48" y="1910" width="81" height="28"/>
<rect class="sw ten" x="48" y="1952" width="81" height="28"/>
<rect class="sw str" x="48" y="1993" width="81" height="28"/>
<rect class="sw shi" x="48" y="2034" width="81" height="28"/>
<rect class="sw sto" x="48" y="2075" width="81" height="28"/>
<rect class="sw scl" x="48" y="2116" width="81" height="28"/>
<rect class="sw sil" x="48" y="2158" width="81" height="28"/>
<rect class="sw rob" x="48" y="2199" width="81" height="28"/>
<rect class="sw hsu" x="48" y="2240" width="81" height="28"/>
<text class="lg" x="150" y="1851">T. papillosolabiata</text>
<text class="lg" x="150" y="1892">T. leptosoma</text>
<text class="lg" x="150" y="1933">T. wuweiensis</text>
<text class="lg" x="150" y="1975">T. tenuis</text>
<text class="lg" x="150" y="2016">T. strauchii</text>
<text class="lg" x="150" y="2057">T. shiyangensis</text>
<text class="lg" x="150" y="2098">T. stoliczkae</text>
<text class="lg" x="150" y="2139">T. scleroptera</text>
<text class="lg" x="150" y="2181">T. siluroides</text>
<text class="lg" x="150" y="2222">T. robusta</text>
<text class="lg" x="150" y="2263">T. hsutschouensis</text>
<circle class="sz" cx="574" cy="2124" r="88"/>
<circle class="sz" cx="574" cy="2160" r="52"/>
<circle class="sz" cx="574" cy="2194.5" r="17.5"/>
<text class="lb" style="font-size:27px" x="565" y="2070">50</text>
<text class="lb" style="font-size:27px" x="562" y="2134">10</text>
<text class="lb" style="font-size:25px" x="574" y="2208">1</text>
</g>
</svg>
